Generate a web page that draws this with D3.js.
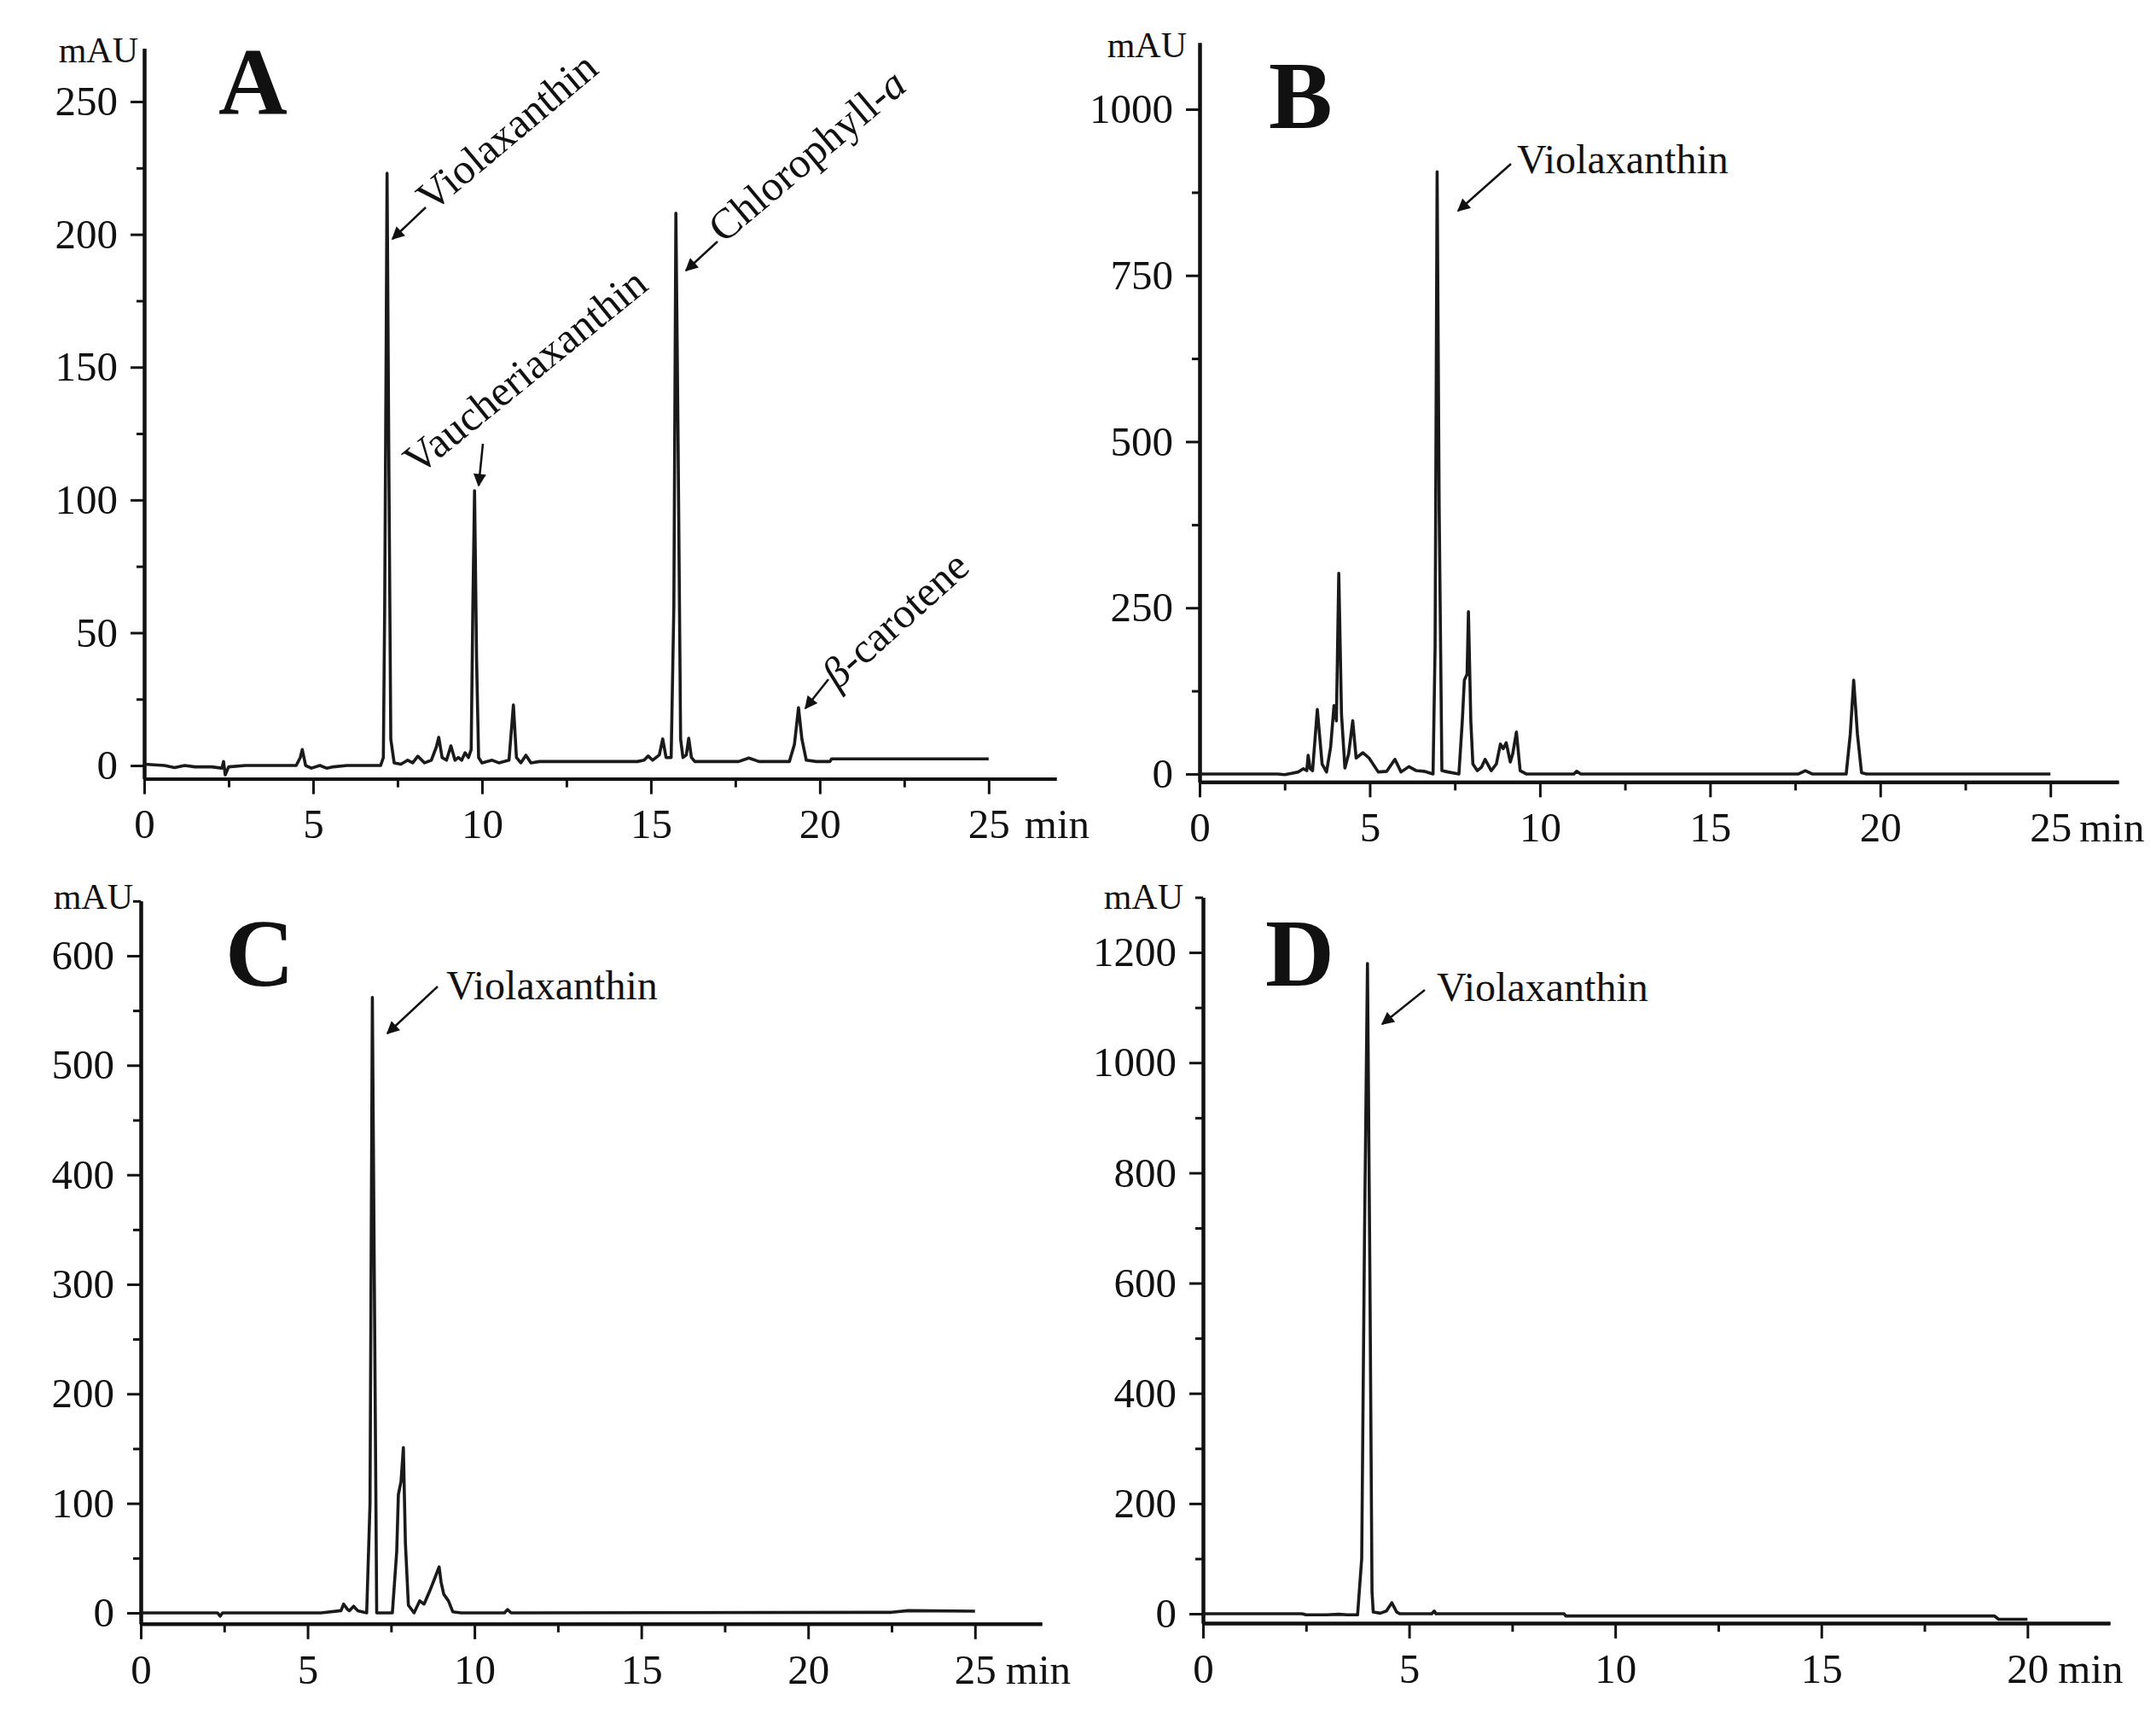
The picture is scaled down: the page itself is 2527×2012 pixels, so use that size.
<!DOCTYPE html>
<html>
<head>
<meta charset="utf-8">
<script src="https://cdn.jsdelivr.net/npm/d3@7"></script>
<style>
  html, body { margin: 0; padding: 0; background: #fff; }
  svg { display: block; }
  .axis text { font-family: "Liberation Serif", "Times New Roman", serif; font-size: 49px; fill: #111; }
  .axis path, .axis line { stroke: #111; }
</style>
</head>
<body>
<div id="chart"></div>
<script>
// ---- data (time in min, signal in mAU) ----
const timeA = [0, 0.6, 0.9, 1.2, 1.5, 2.0, 2.3, 2.35, 2.4, 2.5, 3.0, 4.5, 4.62, 4.68, 4.78, 4.95, 5.2, 5.4, 5.6, 6.0,
  7.0, 7.08, 7.12, 7.16, 7.19, 7.24, 7.3, 7.4, 7.6, 7.8, 7.95, 8.1, 8.3, 8.5, 8.65, 8.72, 8.82, 8.95, 9.08, 9.2,
  9.3, 9.4, 9.5, 9.6, 9.68, 9.73, 9.78, 9.84, 9.9, 10.0, 10.3, 10.5, 10.8, 10.93, 11.02, 11.15, 11.3, 11.45, 11.7,
  14.6, 14.8, 14.92, 15.05, 15.25, 15.35, 15.45, 15.6, 15.68, 15.74, 15.8, 15.88, 15.95, 16.05, 16.12, 16.2, 16.3,
  17.6, 17.9, 18.2, 19.1, 19.25, 19.37, 19.47, 19.6, 19.9, 20.3, 20.35, 25];
const mauA = [0.5, 0, -0.8, 0, -0.5, -0.5, -1, 1.5, -3.5, -0.5, 0, 0, 3, 6, 0, -1, 0, -1, -0.5, 0,
  0, 3, 60, 150, 223, 120, 10, 1, 0.5, 2, 1, 3.5, 1, 2, 7, 10.6, 3, 2, 7.4, 2,
  3, 2, 4.8, 3, 6, 60, 103.5, 40, 3, 1, 2, 1, 2, 22.8, 3, 1, 3.9, 1, 1.5,
  1.5, 2, 3.6, 2, 4, 10, 3, 3, 60, 208, 130, 10, 3, 4, 10.3, 3, 1.5,
  1.5, 2.8, 1.5, 1.5, 8, 21.8, 10, 2, 1.5, 1.5, 2.5, 2.5];

const timeB = [0, 2.3, 2.5, 2.7, 2.9, 3.05, 3.15, 3.19, 3.25, 3.32, 3.46, 3.6, 3.73, 3.85, 3.95, 4.02, 4.09, 4.17,
  4.27, 4.38, 4.5, 4.6, 4.8, 4.98, 5.25, 5.5, 5.74, 5.92, 6.15, 6.37, 6.6, 6.86, 6.92, 6.98, 7.04, 7.12, 7.3, 7.62,
  7.72, 7.78, 7.86, 7.9, 7.97, 8.03, 8.16, 8.28, 8.39, 8.57, 8.72, 8.84, 8.92, 9.01, 9.13, 9.2, 9.31, 9.42, 9.6,
  11.0, 11.08, 11.2, 17.6, 17.8, 18.0, 19.0, 19.12, 19.22, 19.33, 19.45, 19.6, 25];
const mauB = [0, 0, -1, 1, 3, 8, 5, 28, 8, 5, 97, 15, 3, 40, 103, 80, 302, 90,
  9, 30, 80, 24, 32, 24, 3, 4, 22, 3, 11, 5, 4, 0, 190, 906, 400, 5, 3, 0,
  80, 141, 150, 244, 80, 15, 5, 10, 22, 5, 15, 45, 38, 47, 18, 30, 63, 5, 0,
  0, 4, 0, 0, 5, 0, 0, 60, 141, 60, 2, 0, 0];

const timeC = [0, 2.3, 2.38, 2.45, 5.4, 6.0, 6.08, 6.2, 6.25, 6.38, 6.5, 6.77, 6.87, 6.94, 7.0, 7.07, 7.54,
  7.67, 7.72, 7.8, 7.87, 7.93, 8.02, 8.19, 8.36, 8.49, 8.66, 8.79, 8.94, 9.0, 9.08, 9.22, 9.35, 9.6,
  10.9, 10.99, 11.1, 22.5, 23, 25];
const mauC = [0, 0, -3, 0, 0, 2, 8, 3, 2, 6, 2, 0, 100, 562, 300, 0, 0,
  56, 108, 120, 151, 64, 7, 0, 11, 8, 20, 30, 42, 28, 17, 11, 1, 0,
  0, 3, 0, 0.5, 2, 1.5];

const timeD = [0, 2.4, 2.5, 3.0, 3.3, 3.5, 3.75, 3.85, 3.92, 3.99, 4.05, 4.1, 4.13, 4.3, 4.45, 4.58, 4.7, 4.78,
  5.55, 5.61, 5.65, 8.76, 8.8, 19.2, 19.3, 20];
const mauD = [0, 0, -2, -2, -1, -2, -2, 100, 700, 1180, 600, 40, 3, 1, 5, 20, 3, 0,
  0, 5, 0, 0, -4, -4, -10, -10];

// tick labels
const xTicksABC = [0, 5, 10, 15, 20, 25];
const xTicksD = [0, 5, 10, 15, 20];
const yTicksA = [0, 50, 100, 150, 200, 250];
const yTicksB = [0, 250, 500, 750, 1000];
const yTicksC = [0, 100, 200, 300, 400, 500, 600];
const yTicksD = [0, 200, 400, 600, 800, 1000, 1200];

// peak labels
const labelsA = [
  { text: 'Violaxanthin', x: 506, y: 250, rot: -40, from: [499, 243], to: [460, 280] },
  { text: 'Vaucheriaxanthin', x: 490, y: 558, rot: -39, from: [566, 520], to: [561, 569] },
  { text: 'Chlorophyll-', italic: 'a', x: 848, y: 286, rot: -40, from: [841, 283], to: [804, 317] },
  { text: '-carotene', greek: 'β', x: 982, y: 809, rot: -42, from: [971, 796], to: [944, 830] }
];

const panels = [
  { letter: 'A', lx: 256, ly: 134, time: timeA, mau: mauA, xDomain: [0, 27], left: 169, right: 1238,
    yDomain: [-5, 270], bottom: 912.6, top: 56.8, xTicks: xTicksABC, yTicks: yTicksA, yMinor: 25,
    unit: { x: 162, y: 73 }, minGap: 42, labels: labelsA },
  { letter: 'B', lx: 1487, ly: 150, time: timeB, mau: mauB, xDomain: [0, 27], left: 1406, right: 2483,
    yDomain: [-12, 1100], bottom: 916.3, top: 50.1, xTicks: xTicksABC, yTicks: yTicksB, yMinor: 125,
    unit: { x: 1391, y: 67 }, minGap: 34,
    labels: [{ text: 'Violaxanthin', x: 1778, y: 203, rot: 0, from: [1771, 192], to: [1709, 247] }] },
  { letter: 'C', lx: 264, ly: 1155, time: timeC, mau: mauC, xDomain: [0, 27], left: 165, right: 1221,
    yDomain: [-10, 650], bottom: 1902.8, top: 1055.8, xTicks: xTicksABC, yTicks: yTicksC, yMinor: 50,
    unit: { x: 156, y: 1065 }, minGap: 36,
    labels: [{ text: 'Violaxanthin', x: 523, y: 1171, rot: 0, from: [513, 1156], to: [454, 1211] }] },
  { letter: 'D', lx: 1483, ly: 1155, time: timeD, mau: mauD, xDomain: [0, 22], left: 1410, right: 2473,
    yDomain: [-17, 1300], bottom: 1902, top: 1051.5, xTicks: xTicksD, yTicks: yTicksD, yMinor: 100,
    unit: { x: 1387, y: 1065 }, minGap: 36,
    labels: [{ text: 'Violaxanthin', x: 1684, y: 1173, rot: 0, from: [1670, 1160], to: [1620, 1200] }] }
];

const W = 2527, H = 2012;
const FONT = '"Liberation Serif", "Times New Roman", serif';
const INK = '#111';

const svg = d3.select('#chart').append('svg')
  .attr('width', W).attr('height', H)
  .attr('viewBox', `0 0 ${W} ${H}`);

svg.append('rect').attr('width', W).attr('height', H).attr('fill', '#fff');

const defs = svg.append('defs');
defs.append('marker')
  .attr('id', 'arrowhead')
  .attr('viewBox', '0 0 10 10')
  .attr('refX', 9).attr('refY', 5)
  .attr('markerWidth', 7).attr('markerHeight', 6)
  .attr('markerUnits', 'strokeWidth')
  .attr('orient', 'auto')
  .append('path')
  .attr('d', 'M0,0 L10,5 L0,10 Z')
  .attr('fill', INK);

function drawPanel(p) {
  const x = d3.scaleLinear().domain(p.xDomain).range([p.left, p.right]);
  const y = d3.scaleLinear().domain(p.yDomain).range([p.bottom, p.top]);
  const g = svg.append('g').attr('class', 'panel');

  // x axis: minor ticks every 2.5 min, labelled majors every 5
  const xMinor = d3.range(2.5, p.xDomain[1] + 0.01, 5);
  g.append('g').attr('class', 'axis')
    .attr('transform', `translate(0,${p.bottom})`)
    .call(d3.axisBottom(x).tickValues(xMinor).tickSize(10).tickFormat('').tickSizeOuter(0));
  const xAx = g.append('g').attr('class', 'axis')
    .attr('transform', `translate(0,${p.bottom})`)
    .call(d3.axisBottom(x).tickValues(p.xTicks).tickFormat(d3.format('d'))
      .tickSize(18).tickPadding(17).tickSizeOuter(0));

  const lastX = p.xTicks[p.xTicks.length - 1];
  xAx.append('text')
    .attr('x', x(lastX) + p.minGap)
    .attr('y', 35)
    .attr('dy', '0.71em')
    .attr('text-anchor', 'start')
    .text('min');

  // y axis
  const yMinor = d3.range(p.yMinor, p.yDomain[1] + 0.01, p.yMinor * 2);
  g.append('g').attr('class', 'axis')
    .attr('transform', `translate(${p.left},0)`)
    .call(d3.axisLeft(y).tickValues(yMinor).tickSize(9).tickFormat('').tickSizeOuter(0));
  g.append('g').attr('class', 'axis')
    .attr('transform', `translate(${p.left},0)`)
    .call(d3.axisLeft(y).tickValues(p.yTicks).tickFormat(d3.format('d'))
      .tickSize(16).tickPadding(15).tickSizeOuter(0));

  g.selectAll('.axis path.domain').attr('stroke-width', 4);
  g.selectAll('.axis line').attr('stroke-width', 3);

  // unit label
  g.append('text')
    .attr('x', p.unit.x).attr('y', p.unit.y)
    .attr('text-anchor', 'end')
    .style('font-family', FONT).style('font-size', '42px').attr('fill', INK)
    .text('mAU');

  // panel letter
  g.append('text')
    .attr('x', p.lx).attr('y', p.ly)
    .style('font-family', FONT).style('font-size', '112px').style('font-weight', 'bold')
    .attr('fill', INK)
    .text(p.letter);

  // trace
  const pts = d3.zip(p.time, p.mau);
  g.append('path')
    .datum(pts)
    .attr('fill', 'none')
    .attr('stroke', '#1a1a1a')
    .attr('stroke-width', 3.6)
    .attr('stroke-linejoin', 'round')
    .attr('d', d3.line().x(d => x(d[0])).y(d => y(d[1])));

  // peak annotations
  p.labels.forEach(l => {
    g.append('line')
      .attr('x1', l.from[0]).attr('y1', l.from[1])
      .attr('x2', l.to[0]).attr('y2', l.to[1])
      .attr('stroke', INK).attr('stroke-width', 2.5)
      .attr('marker-end', 'url(#arrowhead)');
    const t = g.append('text')
      .attr('transform', `translate(${l.x},${l.y}) rotate(${l.rot})`)
      .style('font-family', FONT)
      .style('font-size', p.letter === 'A' ? '50px' : '48px')
      .attr('fill', INK);
    if (l.greek) t.append('tspan').style('font-style', 'italic').text(l.greek);
    t.append('tspan').text(l.text);
    if (l.italic) t.append('tspan').style('font-style', 'italic').text(l.italic);
  });
}

panels.forEach(drawPanel);
</script>
</body>
</html>
